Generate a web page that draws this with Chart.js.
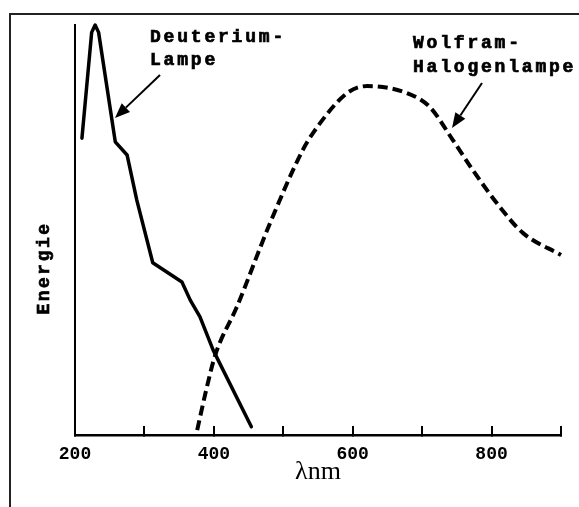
<!DOCTYPE html>
<html>
<head>
<meta charset="utf-8">
<script src="https://cdn.jsdelivr.net/npm/chart.js@4"></script>
<style>
  html, body { margin: 0; padding: 0; background: #fff; }
  canvas { display: block; }
</style>
</head>
<body>
<canvas id="lampChart" width="579" height="507"></canvas>
<script>
// wavelength (nm) and relative energy
const deuteriumNm = [210, 224, 229, 234, 258, 275, 289, 312, 354, 366, 380, 399, 454];
const deuteriumE = [72.4, 98.2, 100, 98.2, 71.5, 68.3, 57.3, 42, 37.3, 32.9, 28.8, 20.7, 2];

const wolframNm = [376, 389, 402, 433, 481, 528, 543, 592, 621, 678, 711, 744, 773, 812, 845, 900];
const wolframE = [1.2, 11, 19.5, 31.2, 51.7, 69.5, 73.7, 83.4, 85.1, 83.4, 80, 72, 64.6, 55.6, 49.3, 43.9];

const xLabels = [200, 400, 600, 800];

const toPoints = (xs, ys) => xs.map((x, i) => ({ x: x, y: ys[i] }));

// frame, labels and arrows of the original figure
const figureDecor = {
    id: 'figureDecor',
    beforeDraw(chart) {
        const ctx = chart.ctx;
        ctx.save();
        ctx.fillStyle = '#fff';
        ctx.fillRect(0, 0, chart.width, chart.height);
        ctx.strokeStyle = '#222';
        ctx.lineWidth = 2;
        ctx.beginPath();
        ctx.moveTo(10, 507);
        ctx.lineTo(10, 14);
        ctx.lineTo(579, 14);
        ctx.stroke();
        ctx.restore();
        ctx.letterSpacing = '0px';
    },
    afterDraw(chart) {
        const ctx = chart.ctx;
        ctx.save();
        ctx.fillStyle = '#000';
        ctx.strokeStyle = '#000';
        ctx.lineWidth = 0.7;
        ctx.font = 'bold 18px "Liberation Mono", "Courier New", monospace';
        ctx.letterSpacing = '2.8px';
        ctx.textBaseline = 'middle';
        ctx.textAlign = 'left';
        const label = (t, x, y) => { ctx.fillText(t, x, y); ctx.strokeText(t, x, y); };
        label('Deuterium-', 150, 37);
        label('Lampe', 150, 60);
        label('Wolfram-', 413, 43);
        label('Halogenlampe', 413, 67);

        ctx.save();
        ctx.translate(44, 268);
        ctx.rotate(-Math.PI / 2);
        ctx.textAlign = 'center';
        ctx.letterSpacing = '2.5px';
        label('Energie', 0, 0);
        ctx.restore();

        const arrow = (x1, y1, x2, y2) => {
            const a = Math.atan2(y2 - y1, x2 - x1);
            const len = 15, half = 6;
            const bx = x2 - len * Math.cos(a), by = y2 - len * Math.sin(a);
            ctx.lineWidth = 2;
            ctx.beginPath();
            ctx.moveTo(x1, y1);
            ctx.lineTo(bx, by);
            ctx.stroke();
            ctx.beginPath();
            ctx.moveTo(x2, y2);
            ctx.lineTo(bx + half * Math.sin(a), by - half * Math.cos(a));
            ctx.lineTo(bx - half * Math.sin(a), by + half * Math.cos(a));
            ctx.closePath();
            ctx.fill();
        };
        arrow(160, 75, 115, 118);
        arrow(482, 83, 452, 128);
        ctx.restore();
    }
};

const config = {
    type: 'line',
    data: {
        datasets: [{
            label: 'Deuterium-Lampe',
            data: toPoints(deuteriumNm, deuteriumE),
            borderColor: '#000',
            borderWidth: 3.5,
            borderJoinStyle: 'round',
            borderCapStyle: 'round',
            tension: 0,
            pointRadius: 0,
            clip: false
        }, {
            label: 'Wolfram-Halogenlampe',
            data: toPoints(wolframNm, wolframE),
            borderColor: '#000',
            borderWidth: 4,
            borderDash: [10, 5],
            cubicInterpolationMode: 'monotone',
            pointRadius: 0,
            clip: false
        }]
    },
    options: {
        responsive: false,
        animation: false,
        events: [],
        layout: { padding: { left: 0, top: 25, right: 18, bottom: 0 } },
        plugins: {
            legend: { display: false },
            tooltip: { enabled: false }
        },
        scales: {
            x: {
                type: 'linear',
                min: 200,
                max: 900,
                afterFit: (scale) => { scale.height = 72; },
                border: { display: true, color: '#000', width: 2.5 },
                grid: {
                    display: true,
                    drawOnChartArea: false,
                    drawTicks: true,
                    tickLength: -9,
                    color: '#000',
                    lineWidth: 2
                },
                ticks: {
                    stepSize: 100,
                    padding: 18,
                    maxRotation: 0,
                    autoSkip: false,
                    color: '#000',
                    font: { family: '"Liberation Mono", "Courier New", monospace', size: 18, weight: 'bold', lineHeight: 1.2 },
                    callback: (v) => xLabels.includes(v) ? String(v) : ''
                },
                title: {
                    display: true,
                    text: 'λnm',
                    color: '#000',
                    font: { family: '"Liberation Serif", "Times New Roman", serif', size: 26, lineHeight: 1 },
                    padding: { top: 0, bottom: 22 }
                }
            },
            y: {
                min: 0,
                max: 100,
                afterFit: (scale) => { scale.width = 75; },
                border: { display: true, color: '#000', width: 2 },
                grid: { display: false, drawTicks: false },
                ticks: { display: false }
            }
        }
    },
    plugins: [figureDecor]
};

const lampChart = new Chart(document.getElementById('lampChart'), config);
</script>
</body>
</html>
